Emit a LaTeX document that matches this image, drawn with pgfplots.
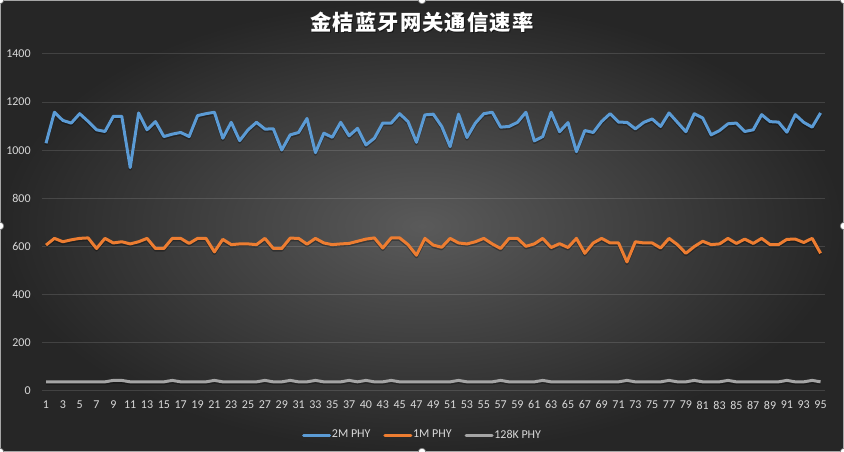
\documentclass[border=0pt]{standalone}
\usepackage{fontspec}
\setmainfont{Carlito}
\newfontfamily\cjk{Noto Sans CJK SC}[LetterSpace=5]
\usepackage{pgfplots}
\usepackage{pgfplotstable}
\pgfplotsset{compat=1.18}

\definecolor{s2m}{HTML}{5B9BD5}
\definecolor{s1m}{HTML}{ED7D31}
\definecolor{s128}{HTML}{A5A5A5}
\definecolor{bgin}{HTML}{5A5A5A}
\definecolor{bgout}{HTML}{262626}
\definecolor{txt}{HTML}{D9D9D9}

% one row per category, in order; labels are set in xticklabels
\pgfplotstableread{
a b c
1029 606 38
1158 634 38
1124 620 38
1113 628 38
1152 634 38
1120 636 38
1085 592 38
1078 634 38
1141 615 44
1141 620 44
928 611 38
1155 620 38
1085 634 38
1119 592 38
1057 592 38
1067 634 44
1074 634 38
1057 613 38
1144 634 38
1152 634 38
1158 578 44
1050 630 38
1116 608 38
1040 611 38
1085 611 38
1116 608 38
1088 634 44
1089 592 38
1001 592 38
1064 635 44
1074 634 38
1132 610 38
990 634 44
1071 615 38
1054 608 38
1116 611 38
1060 613 44
1091 622 38
1022 631 44
1050 636 38
1113 594 38
1113 636 44
1152 636 38
1119 608 38
1033 564 38
1147 634 38
1150 606 38
1099 597 38
1015 634 38
1150 615 44
1053 611 38
1113 620 38
1152 634 38
1158 611 38
1096 592 44
1099 634 38
1116 634 38
1158 601 38
1039 611 38
1057 634 44
1158 596 38
1077 612 38
1115 596 38
994 634 38
1082 572 38
1074 615 38
1120 634 38
1152 615 38
1117 615 38
1116 536 44
1089 620 38
1116 615 38
1130 615 38
1099 594 38
1155 634 44
1116 608 38
1077 572 38
1152 600 44
1134 622 38
1064 608 38
1082 611 38
1110 634 44
1113 613 38
1078 631 38
1085 613 38
1148 634 38
1119 608 38
1117 608 38
1075 630 44
1148 631 38
1116 617 38
1096 634 44
1155 572 38
}\speed

\begin{document}
\begin{tikzpicture}
\useasboundingbox (0,0) rectangle (633pt,339pt);
\shade[inner color=bgin, outer color=bgout] (0,0) rectangle (633pt,339pt);
\draw[gray!70, line width=0.6pt] (0.3pt,0.3pt) rectangle (632.7pt,338.7pt);

\node[text=black, opacity=0.5, font=\cjk\bfseries\fontsize{16}{19}\selectfont] at (317.3pt,321.7pt) {金桔蓝牙网关通信速率};
\node[text=white, font=\cjk\bfseries\fontsize{16}{19}\selectfont] at (316.5pt,322.5pt) {金桔蓝牙网关通信速率};

\begin{axis}[
    at={(31.35pt,45.75pt)}, anchor=south west,
    scale only axis,
    width=587.25pt, height=252.75pt,
    xmin=-0.5, xmax=92.5,
    ymin=0, ymax=1400,
    ytick={0,200,...,1400},
    xtick={0,2,...,92},
    xticklabels={1,3,5,7,9,11,13,15,17,19,21,23,25,27,29,31,33,35,37,40,43,45,47,49,51,53,55,57,59,61,63,65,67,69,71,73,75,77,79,81,83,85,87,89,91,93,95},
    axis line style={draw=none},
    major tick length=0pt,
    ymajorgrids,
    grid style={white, opacity=0.13, line width=0.75pt},
    tick label style={font=\fontsize{9}{11}\selectfont, text=txt},
    /pgf/number format/assume math mode=true,
    /pgf/number format/1000 sep={},
    yticklabel style={inner sep=0pt, xshift=-8.2pt},
    xticklabel style={inner sep=0pt, yshift=-7.2pt},
    legend columns=3,
    legend style={at={(0.4856,-0.1306)}, anchor=center, draw=none, fill=none,
      font=\fontsize{9}{11}\selectfont, text=txt,
      /tikz/every even column/.append style={column sep=9pt},
      nodes={inner sep=0.6pt}},
    legend image code/.code={\draw[#1, line cap=round] (0pt,0pt) -- (19.5pt,0pt);},
    every axis plot/.append style={line width=2.25pt, line join=round, mark=none},
]
\addplot[black, opacity=0.3, yshift=-1.2pt, forget plot] table[x expr=\coordindex, y=c] {\speed};
\addplot[black, opacity=0.3, yshift=-1.2pt, forget plot] table[x expr=\coordindex, y=b] {\speed};
\addplot[black, opacity=0.3, yshift=-1.2pt, forget plot] table[x expr=\coordindex, y=a] {\speed};
\addplot[s2m] table[x expr=\coordindex, y=a] {\speed};
\addplot[s1m] table[x expr=\coordindex, y=b] {\speed};
\addplot[s128] table[x expr=\coordindex, y=c] {\speed};
\legend{2M PHY,1M PHY,128K PHY}
\end{axis}

\foreach \p in {(0pt,0pt),(0pt,339pt),(633pt,0pt),(633pt,339pt),(316.5pt,339pt),(316.5pt,0pt),(633pt,169.5pt),(0pt,169.5pt)}
  \filldraw[fill=white, draw=gray, line width=0.5pt] \p circle (2.8pt);
\end{tikzpicture}
\end{document}
